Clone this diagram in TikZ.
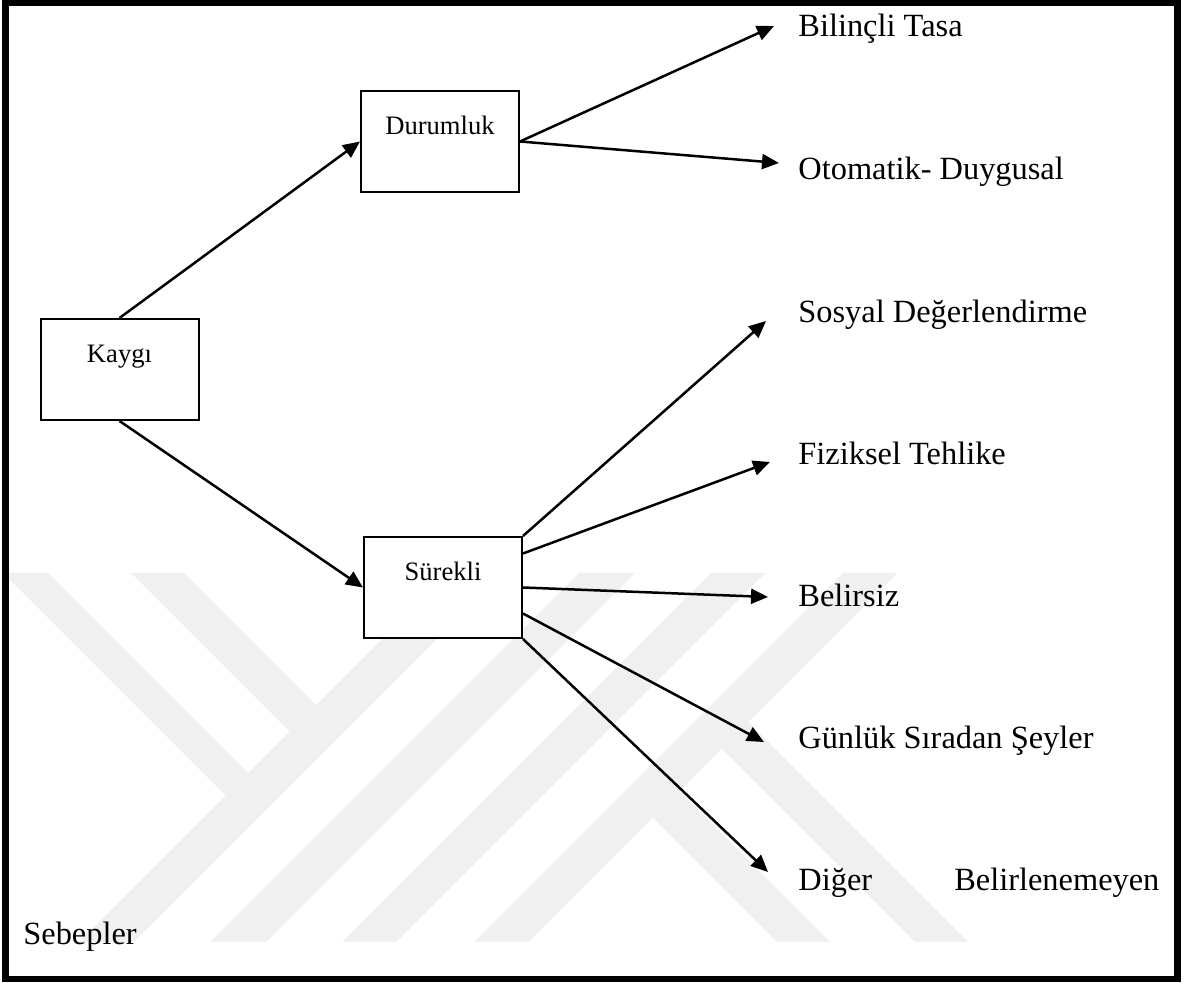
\documentclass[tikz,border=0pt]{standalone}
\usepackage{fontspec}
\setmainfont{Liberation Serif}
\usetikzlibrary{arrows.meta}
\begin{document}
\begin{tikzpicture}[x=.5pt,y=-.5pt,>={Triangle[length=8.5pt,width=7.5pt]},line join=miter,
	kutu/.style={draw,fill=white,line width=1pt,inner sep=0pt,text width=79pt,align=center,text height=22pt,text depth=28.5pt,font=\fontsize{13.3}{15}\selectfont},
	etiket/.style={anchor=base west,inner sep=0pt,font=\fontsize{16.2}{19}\selectfont},
	ok/.style={->,line width=1.25pt},
	iz/.style={fill=black!6}]
		\useasboundingbox (0,0) rectangle (1190,983);
		\fill[iz] (3,573)--(48,573)--(248,773)--(225.5,795.5)--cycle;
		\fill[iz] (131,573)--(184,573)--(316,705)--(289.5,731.5)--cycle;
		\fill[iz] (448,573)--(503,573)--(134,942)--(79,942)--cycle;
		\fill[iz] (579,573)--(635,573)--(266,942)--(210,942)--cycle;
		\fill[iz] (711,573)--(765,573)--(396,942)--(342,942)--cycle;
		\fill[iz] (843,573)--(897,573)--(528,942)--(474,942)--cycle;
		\fill[iz] (652.5,817.5)--(679,791)--(830,942)--(777,942)--cycle;
		\fill[iz] (721.5,748.5)--(748,722)--(968,942)--(915,942)--cycle;
		\node[kutu] (kay) at (119.5,369.5) {Kaygı};
		\node[kutu] (dur) at (440,141.5) {Durumluk};
		\node[kutu] (sur) at (443,587.5) {Sürekli};
		\node[etiket] (bil) at (798,37) {Bilinçli Tasa};
		\node[etiket] (oto) at (798,180) {Otomatik- Duygusal};
		\node[etiket] (sos) at (798,323) {Sosyal Değerlendirme};
		\node[etiket] (fiz) at (798,465) {Fiziksel Tehlike};
		\node[etiket] (bel) at (798,607) {Belirsiz};
		\node[etiket] (gun) at (798,749) {Günlük Sıradan Şeyler};
		\node[etiket] (dig) at (798,891) {\makebox[180.5pt][s]{Diğer Belirlenemeyen}};
		\node[etiket] (seb) at (23,945) {Sebepler};
		\path (774,26) coordinate (u1)
		(779,163) coordinate (u2)
		(766,321) coordinate (u3)
		(770,462) coordinate (u4)
		(768,597) coordinate (u5)
		(764,742) coordinate (u6)
		(768,872) coordinate (u7);
		\draw[ok] (kay.north) -- (dur.west);
		\draw[ok] (kay.south) -- (sur.west);
		\draw[ok] (dur.east) -- (u1);
		\draw[ok] (dur.east) -- (u2);
		\draw[ok] (sur.north east) -- (u3);
		\draw[ok] ([yshift=17pt]sur.east) -- (u4);
		\draw[ok] (sur.east) -- (u5);
		\draw[ok] ([yshift=-13pt]sur.east) -- (u6);
		\draw[ok] (sur.south east) -- (u7);
		\draw[line width=3.4pt] (5.5,3) rectangle (1177.5,979);
	\end{tikzpicture}
\end{document}
